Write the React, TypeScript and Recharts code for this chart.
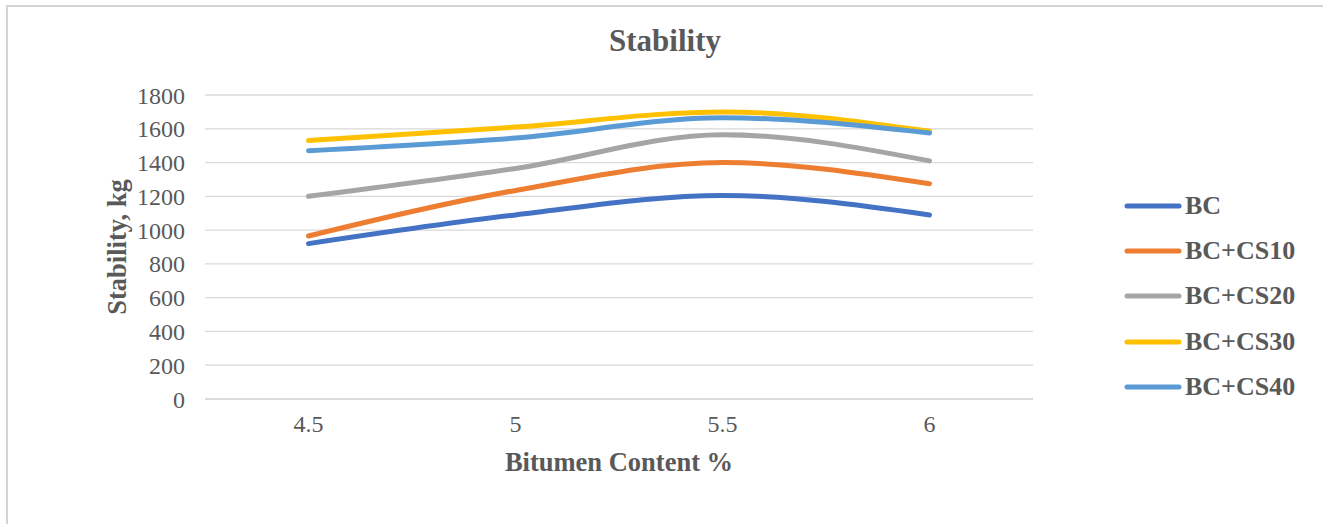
import React from "react";
import { LineChart, Line, XAxis, YAxis, CartesianGrid, Label } from "recharts";

const categories = ["4.5", "5", "5.5", "6"];
const bc = [920, 1090, 1205, 1090];
const bcCs10 = [965, 1235, 1400, 1275];
const bcCs20 = [1200, 1365, 1565, 1410];
const bcCs30 = [1530, 1610, 1700, 1585];
const bcCs40 = [1470, 1545, 1665, 1575];
const yTicks = [0, 200, 400, 600, 800, 1000, 1200, 1400, 1600, 1800];

const seriesNames = ["BC", "BC+CS10", "BC+CS20", "BC+CS30", "BC+CS40"];
const seriesValues = [bc, bcCs10, bcCs20, bcCs30, bcCs40];
const colors = ["#4472C4", "#ED7D31", "#A5A5A5", "#FFC000", "#5B9BD5"];

const data = categories.map((c, i) => {
  const row: Record<string, string | number> = { x: c };
  seriesNames.forEach((n, s) => {
    row[n] = seriesValues[s][i];
  });
  return row;
});

const FONT = "'Liberation Serif', 'Times New Roman', serif";
const TEXT = "#595959";

const LegendBox = () => (
  <div style={{ position: "absolute", left: 1122, top: 183, fontFamily: FONT }}>
    {seriesNames.map((n, i) => (
      <div key={n} style={{ display: "flex", alignItems: "center", height: 45.3 }}>
        <svg width={60} height={10} style={{ marginRight: 3 }}>
          <line x1={5} y1={5} x2={57} y2={5} stroke={colors[i]} strokeWidth={5} strokeLinecap="round" />
        </svg>
        <span style={{ fontWeight: "bold", fontSize: 26, color: TEXT, whiteSpace: "nowrap" }}>{n}</span>
      </div>
    ))}
  </div>
);

export default function App() {
  return (
    <div style={{ position: "absolute", left: 0, top: 0, width: 1323, height: 524, overflow: "hidden", background: "#fff" }}>
      <div style={{ position: "absolute", left: 0, top: 0 }}>
        <LineChart
          width={1323}
          height={524}
          data={data}
          margin={{ top: 95, left: 145, right: 290, bottom: 95 }}
        >
          <CartesianGrid vertical={false} stroke="#d9d9d9" strokeWidth={1.3} />
          <XAxis
            dataKey="x"
            height={30}
            padding={{ left: 103.5, right: 103.5 }}
            axisLine={{ stroke: "#d9d9d9", strokeWidth: 1.3 }}
            tickLine={false}
            tickMargin={10}
            tick={{ fill: TEXT, fontFamily: FONT, fontSize: 24 }}
          >
            <Label
              value="Bitumen Content %"
              position="bottom"
              offset={23}
              style={{ fill: TEXT, fontFamily: FONT, fontWeight: "bold", fontSize: 26.5 }}
            />
          </XAxis>
          <YAxis
            width={60}
            domain={[0, 1800]}
            ticks={yTicks}
            interval={0}
            axisLine={false}
            tickLine={false}
            tickMargin={14}
            tick={{ fill: TEXT, fontFamily: FONT, fontSize: 24 }}
          >
            <Label
              value="Stability, kg"
              angle={-90}
              position="insideLeft"
              offset={-28}
              style={{ fill: TEXT, fontFamily: FONT, fontWeight: "bold", fontSize: 26.5, textAnchor: "middle" }}
            />
          </YAxis>
          {seriesNames.map((n, i) => (
            <Line
              key={n}
              type="monotone"
              dataKey={n}
              stroke={colors[i]}
              strokeWidth={5}
              strokeLinecap="round"
              dot={false}
              activeDot={false}
              isAnimationActive={false}
            />
          ))}
        </LineChart>
      </div>
      <div
        style={{
          position: "absolute",
          left: 0,
          width: 1330,
          top: 23,
          textAlign: "center",
          fontFamily: FONT,
          fontWeight: "bold",
          fontSize: 31,
          color: TEXT,
        }}
      >
        Stability
      </div>
      <LegendBox />
      <div style={{ position: "absolute", zIndex: 5, left: 6, top: 5, width: 1317, height: 2, background: "#d4d4d4" }} />
      <div style={{ position: "absolute", zIndex: 5, left: 6, top: 5, width: 2, height: 519, background: "#d4d4d4" }} />
    </div>
  );
}
